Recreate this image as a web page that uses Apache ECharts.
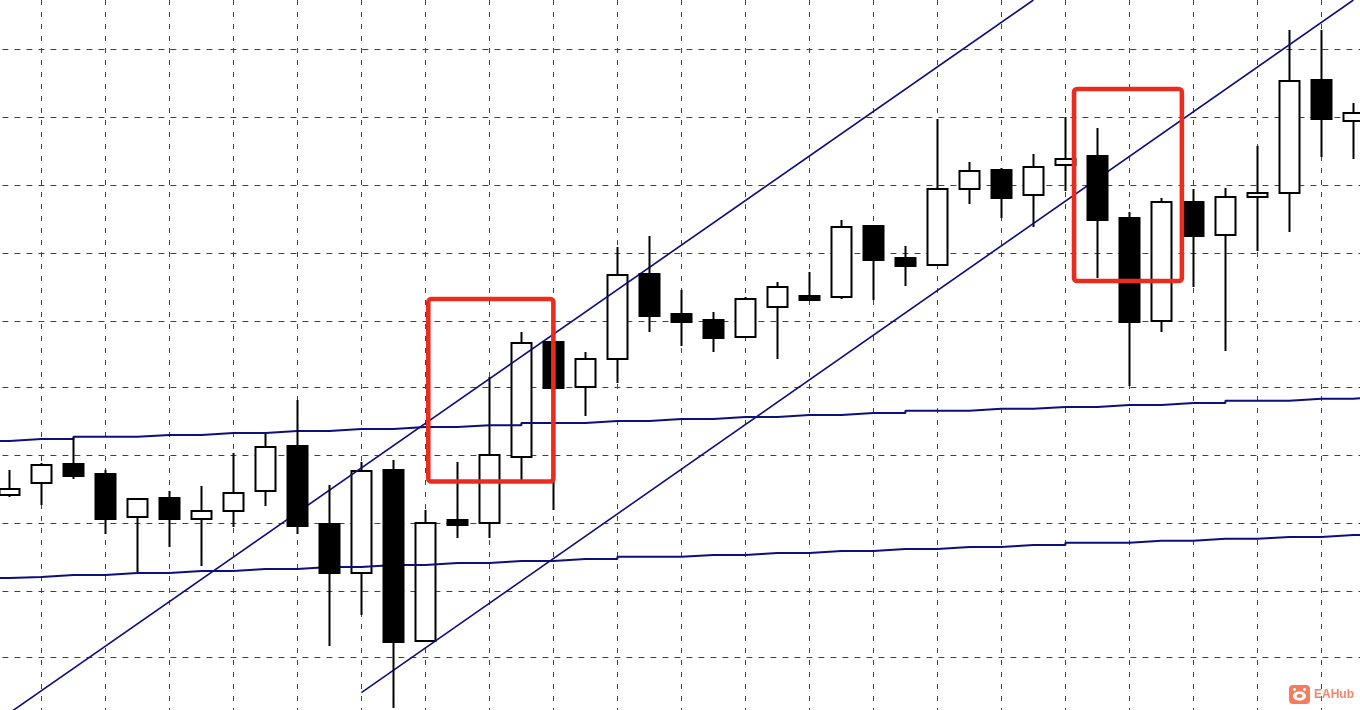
<!DOCTYPE html>
<html>
<head>
<meta charset="utf-8">
<script src="https://cdn.jsdelivr.net/npm/echarts@6/dist/echarts.min.js"></script>
<style>
  html, body { margin: 0; padding: 0; background: #fff; }
  #main { width: 1360px; height: 710px; }
</style>
</head>
<body>
<div id="main"></div>
<script>
// prices are in chart points, the picture has no price scale
var opens  = [215,227,246,236,193,212,191,199,219,264,186,137,240,69,190,187,253,368,323,351,436,396,390,373,403,414,413,484,452,445,521,540,515,545,554,492,389,508,475,513,517,630,589];
var closes = [221,245,234,191,211,191,199,217,263,184,137,239,68,187,185,255,367,322,351,435,394,388,372,411,423,410,483,450,444,521,539,512,543,551,490,388,508,474,513,517,629,591,597];
var lows   = [213,205,231,176,138,163,144,183,204,176,64,95,2,69,172,172,228,200,294,327,378,364,358,373,351,410,411,410,424,445,506,492,483,519,432,324,378,423,359,459,478,553,551];
var highs  = [240,247,272,240,211,219,224,257,278,310,225,248,250,200,248,333,378,368,358,463,474,420,398,413,428,438,490,484,464,591,548,542,556,593,582,498,512,521,522,564,680,680,607];

// stepped averages, first and last entries run off the picture
var upperAvg = [269,271,271,273.3,273.3,275,275,277,277,279,279,281,281,283,283,284.7,284.7,287,287,289,289,291,291,293,293,295,295,297,297,299.3,299.3,301.3,301.3,303,303,305,305,307,307,309.3,309.3,311.3,311.3,313,314];
var lowerAvg = [132,133,135,135,137,137,139,139,141,141,143,143,145,145,147,147,149,149,151,151,153.3,153.3,155,155,157,157,159,159,161,161,163,163,165,165,167.3,167.3,169.3,169.3,171.3,171.3,173,173,175,175,175];

// channel lines [bar slot, price]
var channelTop = [[1,-3],[33,710]];
var channelBottom = [[12,17.3],[43,710]];

var gridLevels = [661,593,525,457,389,322.5,255,187,119,53];

// highlighted boxes [slot from, slot to, price top, price bottom]
var boxes = [[14.09,18,411,228.5],[34.27,37.64,621,429]];

var categories = [''];
opens.forEach(function(v, i) { categories.push(String(i + 1)); });
categories.push('');

var blank = ['-','-','-','-'];
var upBars = [blank], downBars = [blank];
opens.forEach(function(o, i) {
    var bar = [o, closes[i], lows[i], highs[i]];
    upBars.push(closes[i] >= o ? bar : blank);
    downBars.push(closes[i] < o ? bar : blank);
});
upBars.push(blank);
downBars.push(blank);

function candles(name, data, z) {
    return {
        name: name,
        type: 'candlestick',
        data: data,
        z: z,
        barWidth: 20,
        itemStyle: { color: '#fff', color0: '#000', borderColor: '#000', borderColor0: '#000', borderWidth: 2 }
    };
}

function line(name, data, width, step) {
    return {
        name: name,
        type: 'line',
        data: data,
        z: 3,
        step: step,
        symbol: 'none',
        lineStyle: { color: '#0e0e7c', width: width }
    };
}

var myChart = echarts.init(document.getElementById('main'));
myChart.setOption({
    animation: false,
    backgroundColor: '#fff',
    grid: { left: -38.6, width: 1440, top: 0, height: 710, outerBoundsMode: 'none' },
    xAxis: {
        type: 'category',
        data: categories,
        axisLine: { show: false },
        axisTick: { show: false },
        axisLabel: { show: false },
        splitLine: {
            show: true,
            alignWithLabel: true,
            interval: function(index) { return index % 2 === 0; },
            lineStyle: { color: '#444', width: 1, type: [5, 7] }
        }
    },
    yAxis: {
        type: 'value',
        min: 0,
        max: 710,
        axisLine: { show: false },
        axisLabel: { show: false },
        axisTick: { show: false, customValues: gridLevels },
        splitLine: {
            show: true,
            lineStyle: { color: '#444', width: 1, type: [6, 6], dashOffset: 7 }
        }
    },
    series: [
        candles('up', upBars, 2),
        line('upper avg', upperAvg, 2, 'end'),
        line('lower avg', lowerAvg, 2, 'end'),
        line('channel top', channelTop, 1.6),
        line('channel bottom', channelBottom, 1.6),
        candles('down', downBars, 4),
        {
            name: 'boxes',
            type: 'custom',
            z: 5,
            data: boxes,
            encode: { x: [0, 1], y: [2, 3] },
            clip: false,
            renderItem: function(params, api) {
                // category coords get rounded, so add the part of a slot by hand
                var slot = api.size([1, 0])[0];
                var from = api.value(0), to = api.value(1);
                var x0 = api.coord([Math.floor(from), api.value(2)]);
                var x1 = api.coord([Math.floor(to), api.value(3)]);
                var left = x0[0] + (from - Math.floor(from)) * slot;
                var right = x1[0] + (to - Math.floor(to)) * slot;
                return {
                    type: 'rect',
                    shape: { x: left, y: x0[1], width: right - left, height: x1[1] - x0[1], r: 3 },
                    style: { fill: 'none', stroke: '#ea2c1f', lineWidth: 4.6 }
                };
            }
        }
    ],
    graphic: [
        { type: 'rect', z: 10, shape: { x: 1289, y: 685, width: 21, height: 19, r: 4 }, style: { fill: '#f47c5c' } },
        { type: 'ellipse', z: 11, shape: { cx: 1299.5, cy: 696, rx: 6.5, ry: 4.5 }, style: { fill: '#fff' } },
        { type: 'circle', z: 11, shape: { cx: 1294.5, cy: 689.5, r: 1.4 }, style: { fill: '#fff' } },
        { type: 'circle', z: 11, shape: { cx: 1304.5, cy: 689.5, r: 1.4 }, style: { fill: '#fff' } },
        { type: 'ellipse', z: 12, shape: { cx: 1299.5, cy: 696, rx: 3, ry: 2 }, style: { fill: '#f47c5c' } },
        { type: 'text', z: 10, style: { x: 1314, y: 689, text: 'EAHub', fill: '#f0876c', font: 'bold 12px "Liberation Sans", sans-serif' } }
    ]
});
</script>
</body>
</html>
